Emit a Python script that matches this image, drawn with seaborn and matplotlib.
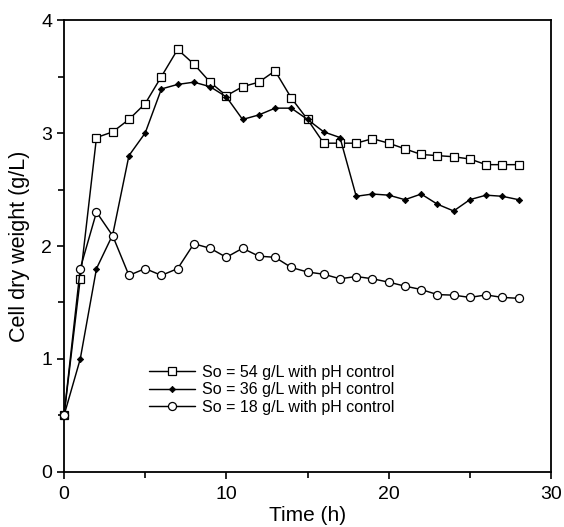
import numpy as np
import pandas as pd
import matplotlib
matplotlib.use("Agg")
import matplotlib.pyplot as plt
from matplotlib.ticker import MultipleLocator
import seaborn as sns

time_h = list(range(0, 29))
so54 = [0.50, 1.71, 2.96, 3.01, 3.12, 3.26, 3.50, 3.74, 3.61, 3.45, 3.33, 3.41, 3.45, 3.55, 3.31,
        3.12, 2.91, 2.91, 2.91, 2.95, 2.91, 2.86, 2.81, 2.80, 2.79, 2.77, 2.72, 2.72, 2.72]
so36 = [0.50, 1.00, 1.80, 2.10, 2.80, 3.00, 3.39, 3.43, 3.45, 3.41, 3.32, 3.12, 3.16, 3.22, 3.22,
        3.12, 3.01, 2.96, 2.44, 2.46, 2.45, 2.41, 2.46, 2.37, 2.31, 2.41, 2.45, 2.44, 2.41]
so18 = [0.50, 1.80, 2.30, 2.09, 1.74, 1.80, 1.74, 1.80, 2.02, 1.98, 1.90, 1.98, 1.91, 1.90, 1.81,
        1.77, 1.75, 1.71, 1.73, 1.71, 1.68, 1.645, 1.615, 1.57, 1.565, 1.545, 1.567, 1.545, 1.537]
labels = ["So = 54 g/L with pH control", "So = 36 g/L with pH control", "So = 18 g/L with pH control"]

sns.set_style("ticks")
plt.rcParams['font.family'] = ['Liberation Sans', 'DejaVu Sans']
plt.rcParams['text.color'] = 'black'
plt.rcParams['axes.labelcolor'] = 'black'
plt.rcParams['xtick.color'] = 'black'
plt.rcParams['ytick.color'] = 'black'

fig = plt.figure(figsize=(5.64, 5.27), dpi=100)
ax = fig.add_axes([0.1135, 0.1044, 0.8635, 0.8576])

styles = [
    dict(marker='s', markersize=5.8, markerfacecolor='white', markeredgecolor='black', markeredgewidth=0.9),
    dict(marker='D', markersize=3.2, markerfacecolor='black', markeredgecolor='black', markeredgewidth=0.6),
    dict(marker='o', markersize=5.8, markerfacecolor='white', markeredgecolor='black', markeredgewidth=0.9),
]
for ys, lab, st in zip([so54, so36, so18], labels, styles):
    df = pd.DataFrame({"t": time_h, "y": ys})
    sns.lineplot(data=df, x="t", y="y", ax=ax, color='black', linewidth=1.05, label=lab,
                 clip_on=False, zorder=3, **st)

ax.set_xlim(0, 30)
ax.set_ylim(0, 4)
ax.xaxis.set_major_locator(MultipleLocator(10))
ax.xaxis.set_minor_locator(MultipleLocator(5))
ax.yaxis.set_major_locator(MultipleLocator(1))
ax.yaxis.set_minor_locator(MultipleLocator(0.5))
ax.tick_params(which='major', direction='out', length=5, width=1.2, labelsize=14, colors='black')
ax.tick_params(which='minor', direction='out', length=4, width=1.2)
ax.tick_params(axis='x', pad=5)
for s in ax.spines.values():
    s.set_linewidth(1.3)
    s.set_color('black')
ax.set_xlabel("Time (h)", fontsize=15, labelpad=2)
ax.set_ylabel("Cell dry weight (g/L)", fontsize=15.5, labelpad=8)

leg = ax.legend(loc='upper left', bbox_to_anchor=(0.1745, 0.237), frameon=False, fontsize=11.5,
                handlelength=2.9, handletextpad=0.4, labelspacing=0.15, borderaxespad=0, borderpad=0)
for t in leg.get_texts():
    t.set_color('black')

fig.savefig("out.png", dpi=100)
